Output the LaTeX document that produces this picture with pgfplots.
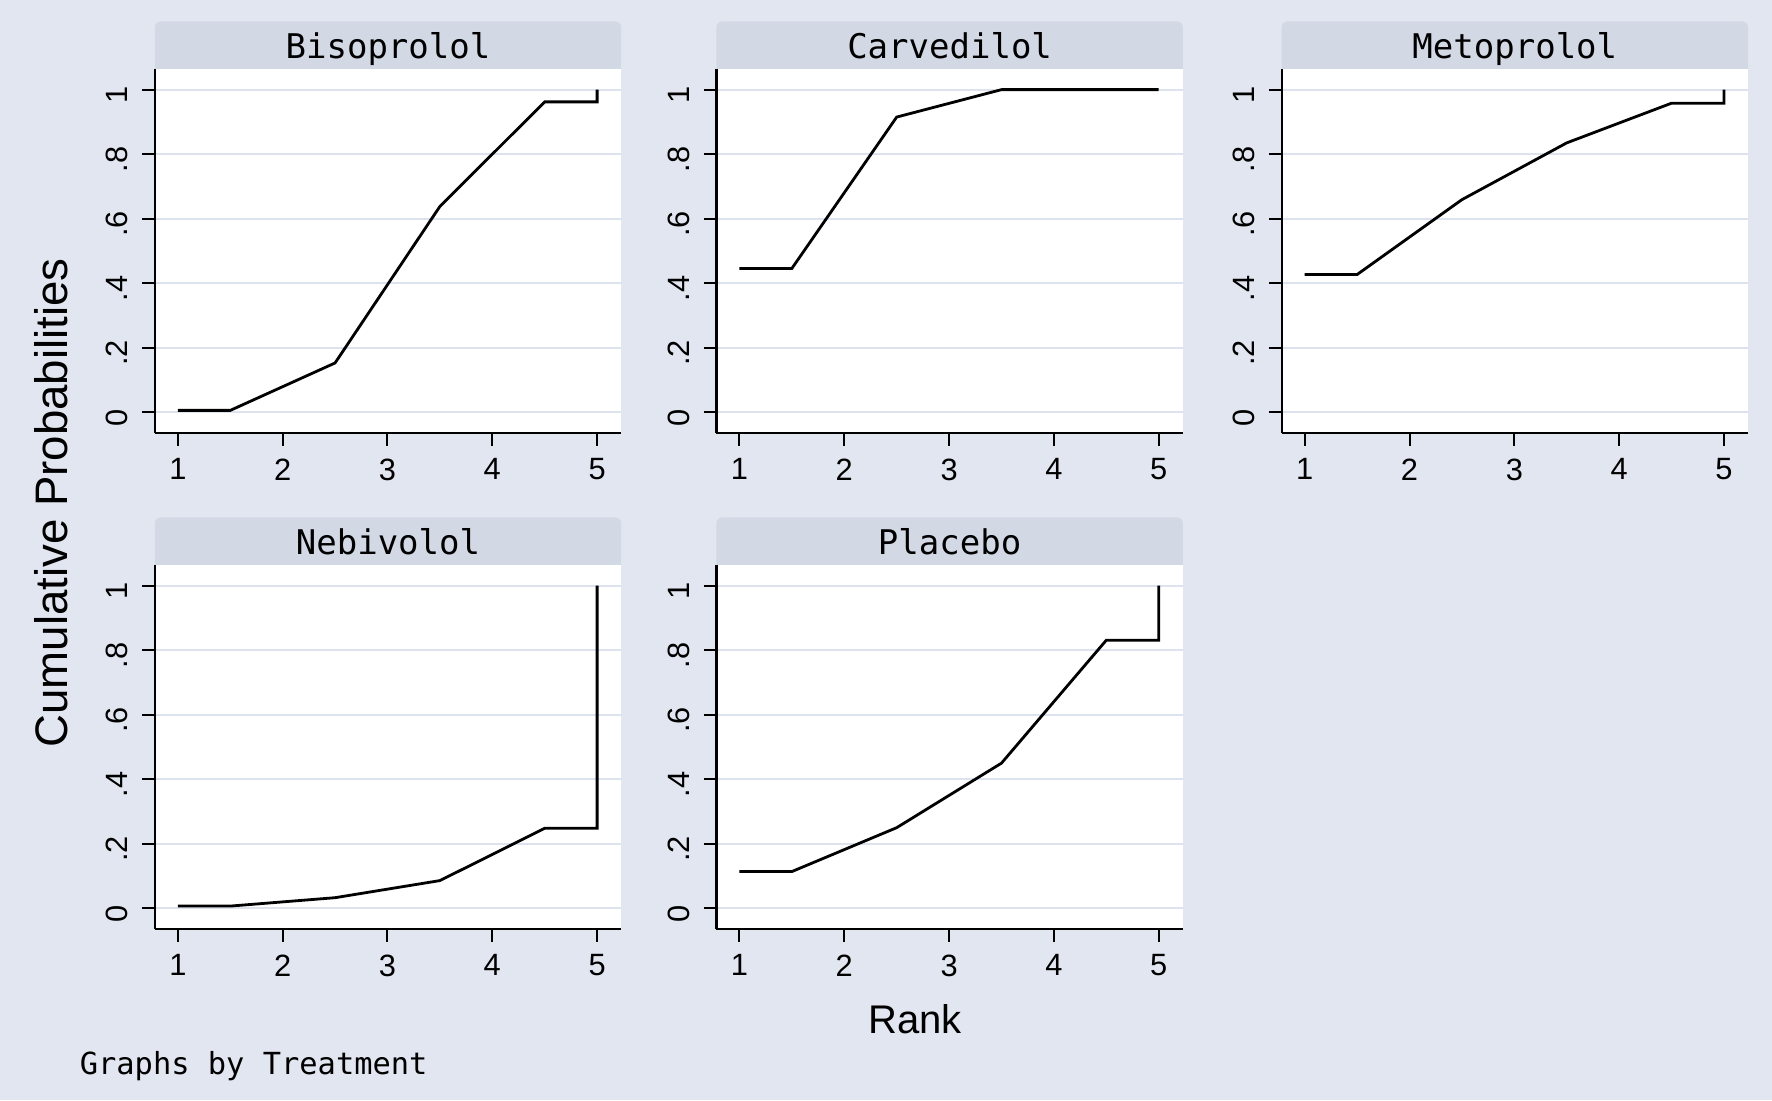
\documentclass[border=0pt]{standalone}
\usepackage{fontspec}
\setmainfont{Liberation Sans}
\newfontfamily\monofont{DejaVu Sans Mono}
\usepackage{pgfplots}
\pgfplotsset{compat=1.18}
\definecolor{bgc}{RGB}{226,230,240}
\definecolor{hdr}{RGB}{211,216,229}
\definecolor{gridc}{RGB}{221,227,238}
\pgfplotsset{
  panel/.style={
    scale only axis, width=116.6pt, height=91pt,
    anchor=south west, clip=false,
    xmin=0.78, xmax=5.23, ymin=-0.064, ymax=1.064,
    axis lines*=left,
    axis line style={black, line width=0.55pt},
    axis background/.style={fill=white},
    xtick={1,2,3,4,5}, xticklabels={1,2,3,4,5},
    ytick={0,0.2,0.4,0.6,0.8,1}, yticklabels={0,.2,.4,.6,.8,1},
    tick align=outside, major tick length=3.2pt,
    tick style={black, line width=0.5pt},
    ymajorgrids, grid style={gridc, line width=0.55pt},
    /pgf/number format/assume math mode=true,
    ticklabel style={font=\fontsize{7.7}{8.5}\selectfont},
    yticklabel style={rotate=90, anchor=south, xshift=-1.3pt},
    xticklabel style={yshift=0.3pt},
  },
  curve/.style={black, line width=0.7pt, line join=miter},
}
\newcommand{\header}[1]{%
  \fill[hdr] (rel axis cs:0,1) [rounded corners=1.5pt] -- ([yshift=11.9pt]rel axis cs:0,1) -- ([yshift=11.9pt]rel axis cs:1,1) [sharp corners] -- (rel axis cs:1,1) -- cycle;
  \node[font=\monofont\fontsize{8.5}{9}\selectfont, inner sep=0pt, anchor=base] at ([yshift=2.6pt]rel axis cs:0.5,1) {#1};
}
\begin{document}
\begin{tikzpicture}
\fill[bgc, use as bounding box] (0,0) rectangle (443pt,275pt);

% Row 1
\begin{axis}[panel, at={(38.7pt,166.75pt)}]
\addplot[curve] coordinates {(1,0.006) (1.5,0.006) (2.5,0.153) (3.5,0.638) (4.5,0.962) (5,0.962) (5,1)};
\header{Bisoprolol}
\end{axis}

\begin{axis}[panel, at={(179.1pt,166.75pt)}]
\addplot[curve] coordinates {(1,0.446) (1.5,0.446) (2.5,0.915) (3.5,1.0) (4.5,1.0) (5,1.0) (5,1)};
\header{Carvedilol}
\end{axis}

\begin{axis}[panel, at={(320.4pt,166.75pt)}]
\addplot[curve] coordinates {(1,0.427) (1.5,0.427) (2.5,0.659) (3.5,0.835) (4.5,0.958) (5,0.958) (5,1)};
\header{Metoprolol}
\end{axis}

% Row 2
\begin{axis}[panel, at={(38.7pt,42.75pt)}]
\addplot[curve] coordinates {(1,0.007) (1.5,0.007) (2.5,0.033) (3.5,0.086) (4.5,0.248) (5,0.248) (5,1)};
\header{Nebivolol}
\end{axis}

\begin{axis}[panel, at={(179.1pt,42.75pt)}]
\addplot[curve] coordinates {(1,0.114) (1.5,0.114) (2.5,0.25) (3.5,0.45) (4.5,0.831) (5,0.831) (5,1)};
\header{Placebo}
\end{axis}

\node[rotate=90, font=\fontsize{11.4}{12}\selectfont, inner sep=0pt] at (12.75pt,149.25pt) {Cumulative Probabilities};
\node[font=\fontsize{10}{12}\selectfont, inner sep=0pt] at (228.75pt,20.25pt) {Rank};
\node[font=\monofont\fontsize{7.6}{9}\selectfont, inner sep=0pt, anchor=west] at (19.75pt,8.55pt) {Graphs by Treatment};
\end{tikzpicture}
\end{document}
